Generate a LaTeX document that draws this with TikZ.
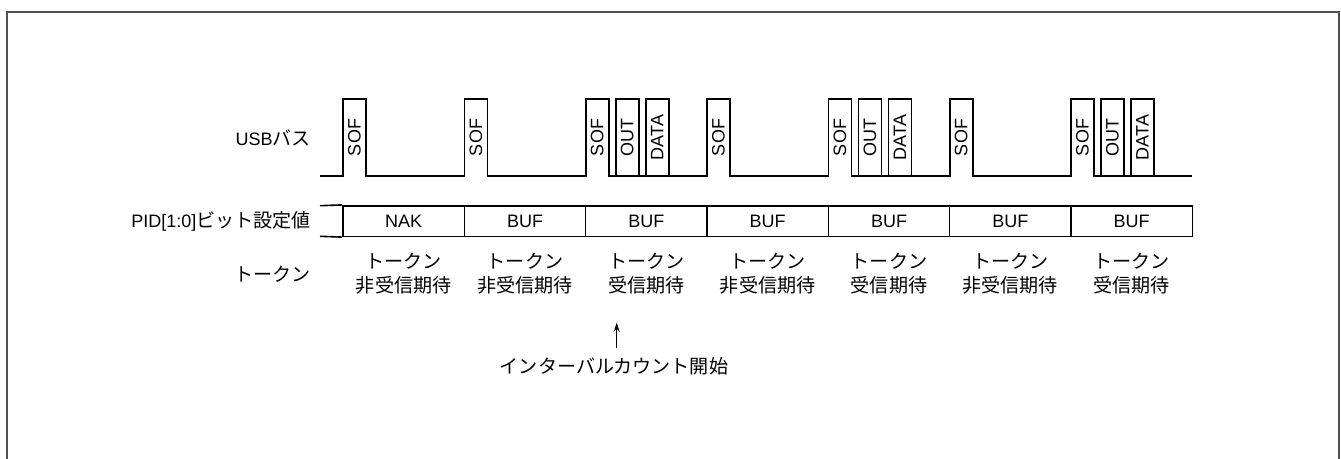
\documentclass[tikz,border=0pt]{standalone}
\usepackage{fontspec}
\setmainfont{Liberation Sans}
\newfontfamily\jp[Scale=1.06]{Noto Sans CJK JP}
\usetikzlibrary{arrows.meta}
\definecolor{framegray}{HTML}{505050}
\begin{document}
\begin{tikzpicture}[x=1pt,y=-1pt,
  wave/.style={line width=1.6pt, line join=miter},
  frameline/.style={draw=framegray, line width=2pt},
  pkt/.style={draw, line width=1.6pt, rotate=90, minimum width=77pt, minimum height=23pt, inner sep=0pt, font=\fontsize{18}{21}\selectfont},
  pktlabel/.style={rotate=90, inner sep=0pt, font=\fontsize{18}{21}\selectfont},
  cell/.style={draw, line width=1.6pt, minimum width=121.33pt, minimum height=30.6pt, inner sep=0pt, font=\fontsize{18}{21}\selectfont},
  token/.style={align=center, inner sep=0pt, font=\fontsize{18}{24}\selectfont\jp},
  rowlabel/.style={anchor=east, inner sep=0pt, font=\fontsize{18}{21}\selectfont},
  arr/.style={-{Stealth[length=9pt,width=6pt]}, line width=1.3pt}
]
\useasboundingbox (0,0) rectangle (1341,458);
% outer frame
\draw[frameline] (6.5,460) -- (6.5,11.5) -- (1338.5,11.5) -- (1338.5,460);

% row labels
\node[rowlabel] (lusb) at (311,138) {USB{\jp バス}};
\node[rowlabel] (lpid) at (311,221) {PID[1:0]{\jp ビット設定値}};
\node[rowlabel] (ltok) at (311,274) {\jp トークン};

% USB bus waveform (SOF pulses)
\draw[wave] (320,176)
  -- (343,176) -- ++(0,-77) -- ++(23,0) -- ++(0,77)
  -- (464.3,176) -- ++(0,-77) -- ++(23,0) -- ++(0,77)
  -- (585.7,176) -- ++(0,-77) -- ++(23,0) -- ++(0,77)
  -- (707,176) -- ++(0,-77) -- ++(23,0) -- ++(0,77)
  -- (828.3,176) -- ++(0,-77) -- ++(23,0) -- ++(0,77)
  -- (949.7,176) -- ++(0,-77) -- ++(23,0) -- ++(0,77)
  -- (1071,176) -- ++(0,-77) -- ++(23,0) -- ++(0,77)
  -- (1192.3,176);

% SOF labels
\foreach \x [count=\i] in {343,464.3,585.7,707,828.3,949.7,1071} {
  \node[pktlabel] (sof\i) at (\x+11.5,137.5) {SOF};
}
% OUT / DATA packets
\foreach \x [count=\i] in {585.7,828.3,1071} {
  \node[pkt] (out\i) at (\x+41.5,137.5) {OUT};
  \node[pkt] (data\i) at (\x+71.5,137.5) {DATA};
}

% PID setting row
\foreach \c/\t [count=\i] in {403.65/NAK,525/BUF,646.35/BUF,767.65/BUF,889/BUF,1010.35/BUF,1131.65/BUF} {
  \node[cell] (pid\i) at (\c,221) {\t};
}
\draw[wave] (320,205.7) -- (pid1.north west);
\draw[wave] (320,236.3) -- (pid1.south west);

% token state row
\foreach \c/\t [count=\i] in {403.65/非受信期待,525/非受信期待,646.35/受信期待,767.65/非受信期待,889/受信期待,1010.35/非受信期待,1131.65/受信期待} {
  \node[token] (tok\i) at (\c,274) {トークン\\\t};
}

% interval count start
\coordinate (atail) at (616.7,347.7);
\coordinate (atip) at (616.7,322.7);
\draw[arr] (atail) -- (atip);
\node[token] (ivl) at (614,366) {インターバルカウント開始};
\end{tikzpicture}
\end{document}
